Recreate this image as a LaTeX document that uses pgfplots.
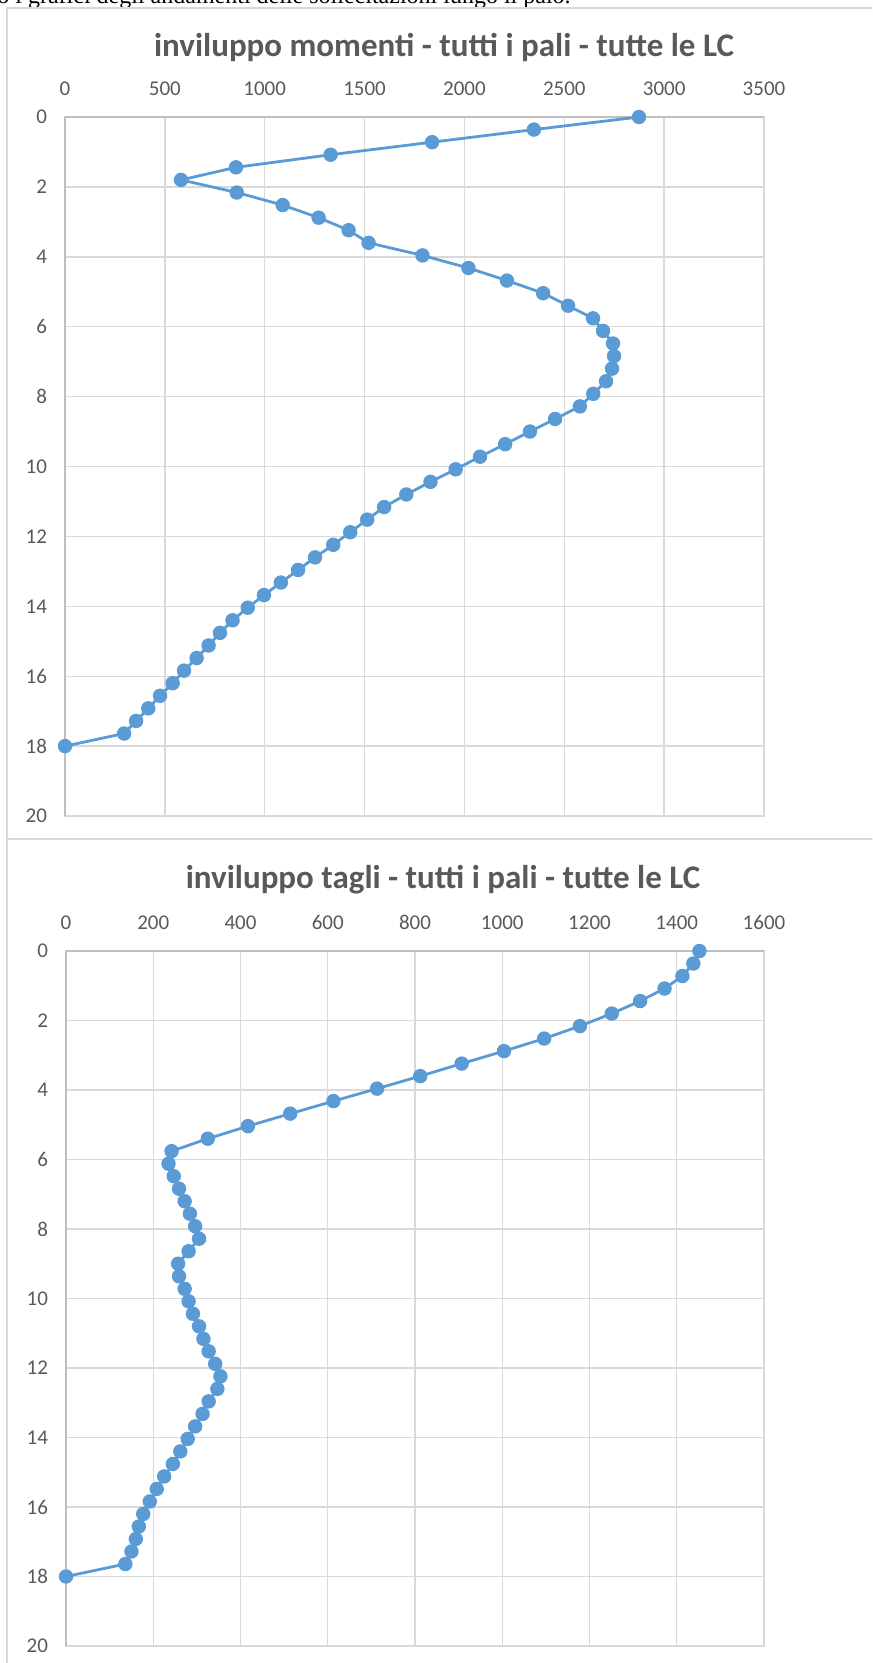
\documentclass[border=0pt]{standalone}
\usepackage{pgfplots}
\pgfplotsset{compat=1.18}
\usepackage{fontspec}
\setmainfont{Carlito}
\newfontfamily\serif{Liberation Serif}
\definecolor{serie}{HTML}{5B9BD5}
\definecolor{griglia}{HTML}{D9D9D9}
\definecolor{assi}{HTML}{BFBFBF}
\definecolor{testo}{HTML}{595959}

\pgfplotsset{
  pali/.style={
    scale only axis,
    y dir=reverse,
    ymin=0, ymax=20,
    ytick={0,2,...,20},
    grid=major,
    grid style={griglia, line width=0.7pt},
    axis line style={griglia, line width=0.7pt},
    major tick length=0pt,
    xticklabel pos=upper,
    tick label style={font=\fontsize{10.5}{12}\selectfont, text=testo},
    xticklabel style={yshift=7pt},
    yticklabel style={xshift=-5.5pt},
    /pgf/number format/assume math mode=true,
    /pgf/number format/1000 sep={},
    clip=false,
  },
  linea/.style={serie, line width=1.4pt, mark=*, mark size=2.9pt,
    mark options={fill=serie, draw=serie}},
}

\begin{document}
\begin{tikzpicture}[x=0.5pt, y=-0.5pt]
\useasboundingbox (0,0) rectangle (872,1663);
\clip (0,0) rectangle (872,1663);

% riga di testo tagliata in alto
\node[anchor=base west, inner sep=0pt, font=\serif\fontsize{12}{14}\selectfont]
  at (-3,4) {o i grafici degli andamenti delle sollecitazioni lungo il palo.};

% cornici dei due grafici
\draw[griglia, line width=0.8pt] (7,8) rectangle (900,839);
\draw[griglia, line width=0.8pt] (7,839) rectangle (900,1700);
\draw[griglia, line width=1.2pt] (7,839) -- (900,839);

% titoli
\node[anchor=base, font=\bfseries\fontsize{16.5}{20}\selectfont, text=testo]
  at (444,57) {inviluppo momenti - tutti i pali - tutte le LC};
\node[anchor=base, font=\bfseries\fontsize{16.5}{20}\selectfont, text=testo]
  at (443,888) {inviluppo tagli - tutti i pali - tutte le LC};

% momenti
\begin{axis}[pali, at={(32.5pt,-58.5pt)}, anchor=north west,
  width=349.5pt, height=349.5pt,
  xmin=0, xmax=3500, xtick={0,500,...,3500}]
\draw[assi, line width=0.8pt] (axis cs:0,0) -- (axis cs:0,20);
\draw[assi, line width=0.8pt] (axis cs:0,0) -- (axis cs:3500,0);
\addplot[linea] coordinates {
(2874,0) (2348,0.36) (1838,0.72) (1330,1.08) (856,1.44) (581,1.8)
(860,2.16) (1090,2.52) (1270,2.88) (1420,3.24) (1520,3.6) (1790,3.96)
(2020,4.32) (2213,4.68) (2394,5.04) (2519,5.4) (2644,5.76) (2694,6.12)
(2744,6.48) (2749,6.84) (2739,7.2) (2709,7.56) (2645,7.92) (2578,8.28)
(2454,8.64) (2328,9.0) (2204,9.36) (2078,9.72) (1956,10.08) (1830,10.44)
(1709,10.8) (1598,11.16) (1513,11.52) (1428,11.88) (1343,12.24) (1252,12.6)
(1167,12.96) (1081,13.32) (996,13.68) (915,14.04) (839,14.4) (776,14.76)
(719,15.12) (659,15.48) (596,15.84) (539,16.2) (476,16.56) (417,16.92)
(356,17.28) (296,17.64) (0,18)
};
\end{axis}

% tagli
\begin{axis}[pali, at={(33pt,-475.5pt)}, anchor=north west,
  width=349pt, height=347.5pt,
  xmin=0, xmax=1600, xtick={0,200,...,1600}]
\draw[assi, line width=0.8pt] (axis cs:0,0) -- (axis cs:0,20);
\draw[assi, line width=0.8pt] (axis cs:0,0) -- (axis cs:1600,0);
\addplot[linea] coordinates {
(1452,0) (1438,0.36) (1413,0.72) (1372,1.08) (1316,1.44) (1251,1.8)
(1178,2.16) (1096,2.52) (1004,2.88) (907,3.24) (812,3.6) (713,3.96)
(613,4.32) (514,4.68) (417,5.04) (325,5.4) (242,5.76) (235,6.12)
(247,6.48) (259,6.84) (272,7.2) (284,7.56) (296,7.92) (305,8.28)
(281,8.64) (257,9.0) (259,9.36) (272,9.72) (281,10.08) (291,10.44)
(305,10.8) (315,11.16) (327,11.52) (342,11.88) (354,12.24) (347,12.6)
(327,12.96) (313,13.32) (296,13.68) (279,14.04) (262,14.4) (245,14.76)
(225,15.12) (208,15.48) (192,15.84) (177,16.2) (167,16.56) (160,16.92)
(150,17.28) (136,17.64) (0,18)
};
\end{axis}
\end{tikzpicture}
\end{document}
